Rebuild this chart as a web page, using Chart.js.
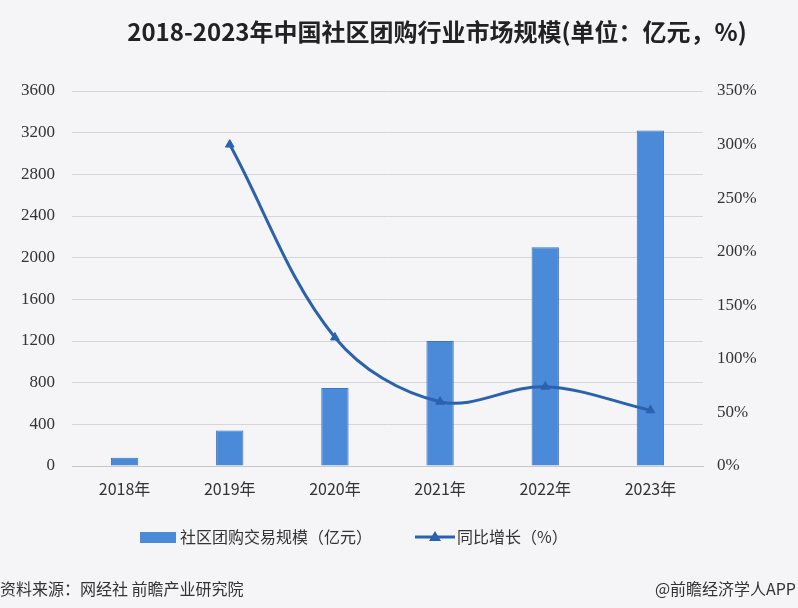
<!DOCTYPE html>
<html><head><meta charset="utf-8">
<script src="https://cdn.jsdelivr.net/npm/chart.js@4/dist/chart.umd.min.js"></script>
<style>
html,body{margin:0;padding:0;background:#f5f5f7;}
#wrap{position:relative;width:798px;height:608px;}
canvas{display:block;}
</style></head><body>
<div id="wrap"><canvas id="c" width="798" height="608"></canvas></div>
<script>
const title = '2018-2023年中国社区团购行业市场规模(单位：亿元，%)';
const categories = ['2018年','2019年','2020年','2021年','2022年','2023年'];
const scaleValues = [80, 340, 750, 1200, 2100, 3220];
const growthValues = [null, 300, 120, 60, 74, 52];
const barLabel = '社区团购交易规模（亿元）';
const lineLabel = '同比增长（%）';
const sourceLeft = '资料来源：网经社 前瞻产业研究院';
const sourceRight = '@前瞻经济学人APP';

const CJK = '"Noto Sans CJK SC", "Noto Sans", sans-serif';
const NUM = '"Liberation Serif", "DejaVu Serif", serif';
const barColor = '#4a8ad8';
const barBorder = '#3b74c2';
const lineColor = '#2b62ae';

const extras = {
  id: 'extras',
  afterDraw(chart) {
    const ctx = chart.ctx;
    const bar = chart.data.datasets.find(d => d.type === 'bar');
    const line = chart.data.datasets.find(d => d.type === 'line');
    ctx.save();
    // title
    ctx.fillStyle = '#222';
    ctx.font = 'bold 24px ' + CJK;
    ctx.textAlign = 'center';
    ctx.textBaseline = 'middle';
    ctx.fillText(title, 437, 32);
    // legend
    const ly = 537;
    ctx.fillStyle = bar.backgroundColor;
    ctx.fillRect(140, ly - 5, 36, 11);
    ctx.fillStyle = '#333';
    ctx.font = '16px ' + CJK;
    ctx.textAlign = 'left';
    ctx.fillText(bar.label, 180, ly);
    const lc = line.borderColor;
    ctx.strokeStyle = lc; ctx.lineWidth = 3;
    ctx.beginPath(); ctx.moveTo(415, ly); ctx.lineTo(455, ly); ctx.stroke();
    ctx.fillStyle = lc;
    ctx.beginPath(); ctx.moveTo(435, ly - 6); ctx.lineTo(441, ly + 4); ctx.lineTo(429, ly + 4); ctx.closePath(); ctx.fill();
    ctx.fillStyle = '#333';
    ctx.fillText(line.label, 457, ly);
    // source
    ctx.fillStyle = '#333';
    ctx.font = '16px ' + CJK;
    ctx.textAlign = 'left';
    ctx.fillText(sourceLeft, 0, 589);
    ctx.textAlign = 'right';
    ctx.fillText(sourceRight, 796, 589);
    ctx.restore();
  }
};

new Chart(document.getElementById('c'), {
  data: {
    labels: categories,
    datasets: [
      { type: 'line', label: lineLabel, data: growthValues, yAxisID: 'y1',
        borderColor: lineColor, backgroundColor: lineColor, borderWidth: 3,
        tension: 0.35, pointStyle: 'triangle', pointRadius: 5, pointBorderWidth: 1,
        pointBackgroundColor: lineColor, pointBorderColor: lineColor, order: 0 },
      { type: 'bar', label: barLabel, data: scaleValues, yAxisID: 'y',
        backgroundColor: barColor, borderColor: barBorder, borderWidth: 1,
        barPercentage: 0.52, categoryPercentage: 0.5, order: 1 }
    ]
  },
  options: {
    responsive: false, animation: false,
    layout: { padding: { top: 91, left: 0, right: 0, bottom: 0 } },
    plugins: { legend: { display: false }, tooltip: { enabled: false } },
    scales: {
      x: {
        grid: { display: false, drawTicks: false },
        border: { color: '#c8c8c8', width: 1 },
        ticks: { color: '#333', font: { family: CJK, size: 16 }, padding: 13 },
        afterFit(s) { s.height = 142; }
      },
      y: {
        position: 'left', min: 0, max: 3600,
        afterBuildTicks(s) { s.ticks = []; for (let v = 0; v <= 3600; v += 400) s.ticks.push({ value: v }); },
        grid: { color: '#d6d6d6', drawTicks: false },
        border: { display: false },
        ticks: { color: '#333', font: { family: NUM, size: 17 }, padding: 17, callback: v => String(v) },
        afterFit(s) { s.width = 72; }
      },
      y1: {
        position: 'right', min: 0, max: 350,
        afterBuildTicks(s) { s.ticks = []; for (let v = 0; v <= 350; v += 50) s.ticks.push({ value: v }); },
        grid: { display: false, drawTicks: false },
        border: { display: false },
        ticks: { color: '#333', font: { family: NUM, size: 17 }, padding: 14, callback: v => v + '%' },
        afterFit(s) { s.width = 95; }
      }
    }
  },
  plugins: [extras]
});
</script>
</body></html>
